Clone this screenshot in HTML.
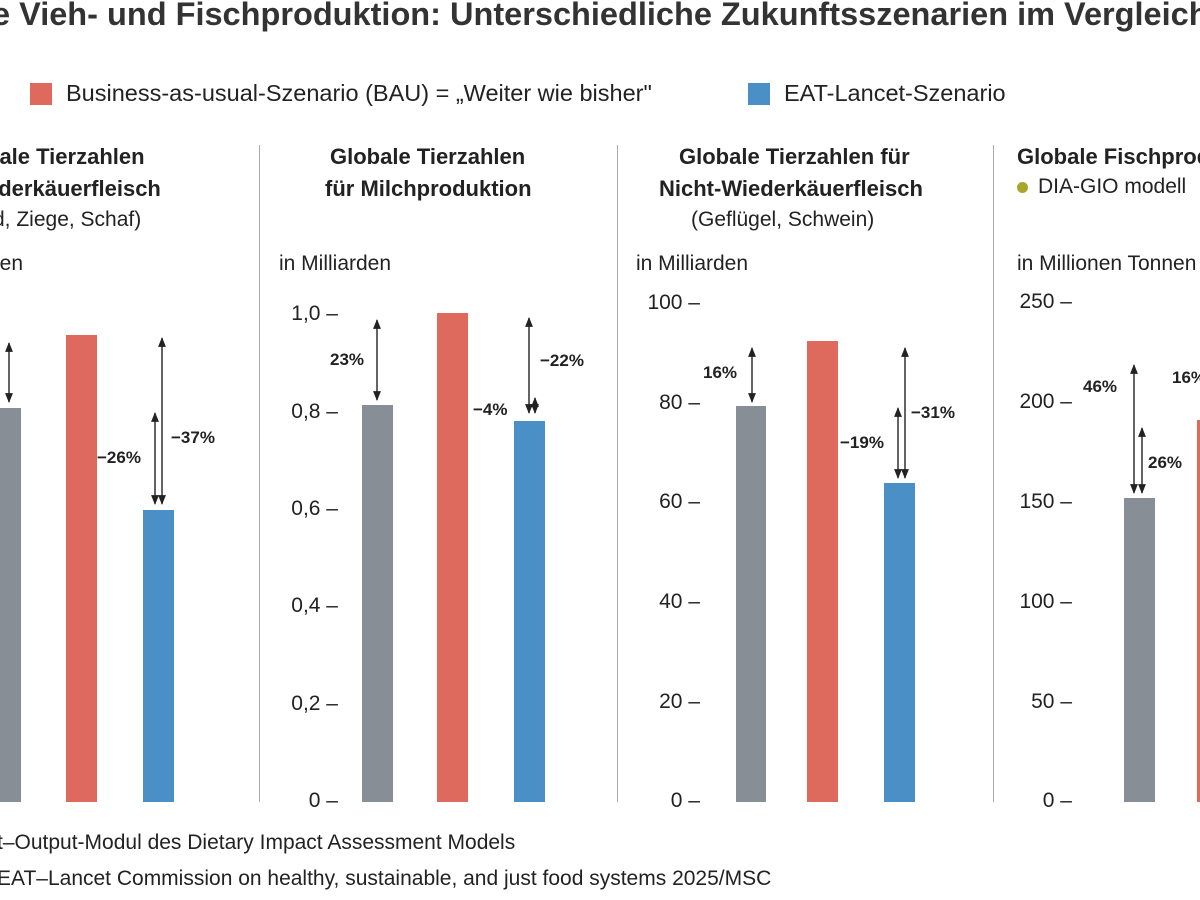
<!DOCTYPE html>
<html><head><meta charset="utf-8"><style>
body{margin:0;width:1200px;height:900px;overflow:hidden;background:#fff;font-family:"Liberation Sans",sans-serif;color:#222;position:relative}
.a{position:absolute;white-space:nowrap}
.t{font-size:22px;font-weight:bold}
.s{font-size:21px}
.tk{font-size:21px;text-align:right;width:70px}
.b{position:absolute}
.g{background:#878e96}.r{background:#de6a5e}.bl{background:#4b8fc7}
.p{font-size:17px;font-weight:bold}
.v{position:absolute;width:1px;background:#aaa}
svg{position:absolute;left:0;top:0}
</style></head><body>
<div class="a" style="left:-8px;top:-4px;font-size:32.5px;font-weight:bold;color:#333">e Vieh- und Fischproduktion: Unterschiedliche Zukunftsszenarien im Vergleich</div>
<div class="b r" style="left:30px;top:83px;width:22px;height:22px"></div>
<div class="a" style="left:66px;top:80px;font-size:23.5px">Business-as-usual-Szenario (BAU) = „Weiter wie bisher"</div>
<div class="b bl" style="left:748px;top:83px;width:22px;height:22px"></div>
<div class="a" style="left:784px;top:80px;font-size:23.5px">EAT-Lancet-Szenario</div>
<div class="v" style="left:259px;top:145px;height:657px"></div>
<div class="v" style="left:617px;top:145px;height:657px"></div>
<div class="v" style="left:993px;top:145px;height:657px"></div>
<!-- panel 1 -->
<div class="a t" style="left:-14px;top:144px">bale Tierzahlen</div>
<div class="a t" style="left:-14px;top:176px">ederkäuerfleisch</div>
<div class="a s" style="left:-7px;top:208px">d, Ziege, Schaf)</div>
<div class="a s" style="left:-5px;top:252px">len</div>
<div class="b g" style="left:0;top:408px;width:21px;height:394px"></div>
<div class="b r" style="left:66px;top:335px;width:31px;height:467px"></div>
<div class="b bl" style="left:143px;top:510px;width:31px;height:292px"></div>
<div class="a p" style="left:97px;top:448px">−26%</div>
<div class="a p" style="left:171px;top:428px">−37%</div>
<!-- panel 2 -->
<div class="a t" style="left:330px;top:144px">Globale Tierzahlen</div>
<div class="a t" style="left:325px;top:176px">für Milchproduktion</div>
<div class="a s" style="left:279px;top:252px">in Milliarden</div>
<div class="a tk" style="left:268px;top:302px">1,0 –</div>
<div class="a tk" style="left:268px;top:400px">0,8 –</div>
<div class="a tk" style="left:268px;top:497px">0,6 –</div>
<div class="a tk" style="left:268px;top:594px">0,4 –</div>
<div class="a tk" style="left:268px;top:692px">0,2 –</div>
<div class="a tk" style="left:268px;top:789px">0 –</div>
<div class="b g" style="left:362px;top:405px;width:31px;height:397px"></div>
<div class="b r" style="left:437px;top:313px;width:31px;height:489px"></div>
<div class="b bl" style="left:514px;top:421px;width:31px;height:381px"></div>
<div class="a p" style="left:330px;top:350px">23%</div>
<div class="a p" style="left:473px;top:400px">−4%</div>
<div class="a p" style="left:540px;top:351px">−22%</div>
<!-- panel 3 -->
<div class="a t" style="left:679px;top:144px">Globale Tierzahlen für</div>
<div class="a t" style="left:659px;top:176px">Nicht-Wiederkäuerfleisch</div>
<div class="a s" style="left:691px;top:208px">(Geflügel, Schwein)</div>
<div class="a s" style="left:636px;top:252px">in Milliarden</div>
<div class="a tk" style="left:630px;top:291px">100 –</div>
<div class="a tk" style="left:630px;top:391px">80 –</div>
<div class="a tk" style="left:630px;top:490px">60 –</div>
<div class="a tk" style="left:630px;top:590px">40 –</div>
<div class="a tk" style="left:630px;top:690px">20 –</div>
<div class="a tk" style="left:630px;top:789px">0 –</div>
<div class="b g" style="left:736px;top:406px;width:30px;height:396px"></div>
<div class="b r" style="left:807px;top:341px;width:31px;height:461px"></div>
<div class="b bl" style="left:884px;top:483px;width:31px;height:319px"></div>
<div class="a p" style="left:703px;top:363px">16%</div>
<div class="a p" style="left:840px;top:433px">−19%</div>
<div class="a p" style="left:911px;top:403px">−31%</div>
<!-- panel 4 -->
<div class="a t" style="left:1017px;top:144px">Globale Fischproduktion</div>
<div class="b" style="left:1017px;top:182px;width:11px;height:11px;border-radius:50%;background:#a9a62a"></div>
<div class="a s" style="left:1038px;top:175px">DIA-GIO modell</div>
<div class="a s" style="left:1017px;top:252px">in Millionen Tonnen</div>
<div class="a tk" style="left:1002px;top:290px">250 –</div>
<div class="a tk" style="left:1002px;top:390px">200 –</div>
<div class="a tk" style="left:1002px;top:490px">150 –</div>
<div class="a tk" style="left:1002px;top:590px">100 –</div>
<div class="a tk" style="left:1002px;top:690px">50 –</div>
<div class="a tk" style="left:1002px;top:789px">0 –</div>
<div class="b g" style="left:1124px;top:498px;width:31px;height:304px"></div>
<div class="b r" style="left:1197px;top:420px;width:10px;height:382px"></div>
<div class="a p" style="left:1083px;top:377px">46%</div>
<div class="a p" style="left:1148px;top:453px">26%</div>
<div class="a p" style="left:1172px;top:368px">16%</div>
<svg width="1200" height="900">
<defs><marker id="m" viewBox="0 0 10 10" refX="9" refY="5" markerWidth="7" markerHeight="7" orient="auto-start-reverse"><path d="M0,1 L10,5 L0,9 z" fill="#222"/></marker></defs>
<g stroke="#222" stroke-width="1.4" marker-start="url(#m)" marker-end="url(#m)">
<line x1="9" y1="343" x2="9" y2="402"/>
<line x1="155" y1="413" x2="155" y2="504"/>
<line x1="162" y1="338" x2="162" y2="504"/>
<line x1="377" y1="320" x2="377" y2="400"/>
<line x1="529" y1="318" x2="529" y2="413"/>
<line x1="535" y1="398" x2="535" y2="413"/>
<line x1="752" y1="348" x2="752" y2="402"/>
<line x1="898" y1="408" x2="898" y2="478"/>
<line x1="905" y1="348" x2="905" y2="478"/>
<line x1="1134" y1="365" x2="1134" y2="493"/>
<line x1="1142" y1="428" x2="1142" y2="493"/>
</g></svg>
<div class="a" style="left:-3px;top:831px;font-size:21px">t–Output-Modul des Dietary Impact Assessment Models</div>
<div class="a" style="left:-3px;top:867px;font-size:21px">EAT–Lancet Commission on healthy, sustainable, and just food systems 2025/MSC</div>
</body></html>
